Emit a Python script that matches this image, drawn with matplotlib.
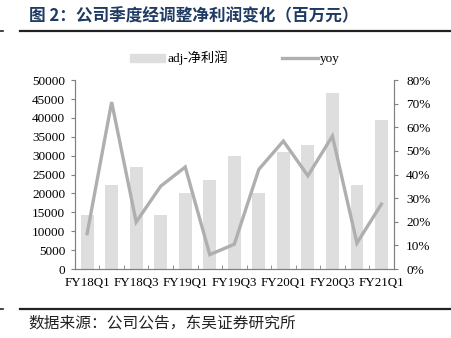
import matplotlib.pyplot as plt
from matplotlib.lines import Line2D
from matplotlib.ticker import FuncFormatter

# 数据
quarters = ['FY18Q1', 'FY18Q2', 'FY18Q3', 'FY18Q4', 'FY19Q1', 'FY19Q2', 'FY19Q3',
            'FY19Q4', 'FY20Q1', 'FY20Q2', 'FY20Q3', 'FY20Q4', 'FY21Q1']
adj_profit = [14200, 22300, 27100, 14200, 20200, 23600, 29800,
              20200, 31100, 32800, 46500, 22300, 39500]
yoy = [15.0, 70.7, 19.9, 35.1, 43.2, 6.1, 10.5, 42.2, 54.2, 39.5, 56.3, 11.0, 27.5]

serif = ['Liberation Serif', 'Noto Sans CJK SC']
cjk = ['Noto Sans CJK SC', 'DejaVu Sans']
plt.rcParams['font.family'] = serif
plt.rcParams['font.size'] = 9.5

fig = plt.figure(figsize=(4.51, 3.38), dpi=100)
ax = fig.add_axes([0.166, 0.204, 0.707, 0.559])
ax2 = ax.twinx()

x = list(range(len(quarters)))
ax.bar(x, adj_profit, width=0.52, color='#dedede', zorder=1)
ax2.plot(x, yoy, color='#afafaf', linewidth=2.4, solid_joinstyle='miter')

ax.set_xlim(-0.5, len(quarters) - 0.5)
ax.set_ylim(0, 50000)
ax.set_yticks(range(0, 50001, 5000))
ax2.set_ylim(0, 80)
ax2.set_yticks(range(0, 81, 10))
ax2.yaxis.set_major_formatter(FuncFormatter(lambda v, p: f'{v:.0f}%'))

ax.set_xticks(x[::2])
ax.set_xticklabels(quarters[::2], fontsize=9.4)
ax.set_xticks([i + 0.5 for i in x[:-1]], minor=True)
ax.tick_params(axis='x', which='major', length=0, pad=6)
ax.tick_params(axis='x', which='minor', length=3, direction='in', color='#808080')
ax.tick_params(axis='y', length=3, direction='out', color='#808080', pad=4)
ax2.tick_params(axis='y', length=3, direction='out', color='#808080', pad=6)

for a in (ax, ax2):
    a.spines['top'].set_visible(False)
    for s in ('left', 'right', 'bottom'):
        a.spines[s].set_color('#808080')
        a.spines[s].set_linewidth(0.8)
ax2.set_zorder(ax.get_zorder() + 1)
ax2.patch.set_visible(False)

# 图例
handles = [plt.Rectangle((0, 0), 1, 1, color='#dedede'),
           Line2D([], [], color='#afafaf', linewidth=2.4)]
fig.legend(handles, ['adj-净利润', 'yoy'], loc='center', bbox_to_anchor=(0.52, 0.828),
           ncol=2, frameon=False, handlelength=2.7, handleheight=0.6,
           columnspacing=4.1, handletextpad=0.15, prop={'family': serif, 'size': 9.5})

# 标题和来源
fig.text(0.064, 0.953, '图 2：公司季度经调整净利润变化（百万元）', family=cjk,
         fontsize=12, fontweight='bold', color='#1f3a63', va='center')
fig.add_artist(Line2D([0.044, 1.0], [0.908, 0.908], color='#222222', linewidth=1.6))
fig.add_artist(Line2D([0.0, 0.007], [0.908, 0.908], color='#222222', linewidth=1.2))
fig.add_artist(Line2D([0.044, 1.0], [0.085, 0.085], color='#222222', linewidth=1.6))
fig.add_artist(Line2D([0.0, 0.007], [0.085, 0.085], color='#222222', linewidth=1.2))
fig.text(0.064, 0.045, '数据来源：公司公告，东吴证券研究所', family=cjk,
         fontsize=11.3, color='#222222', va='center')

fig.savefig('out.png', dpi=100)
